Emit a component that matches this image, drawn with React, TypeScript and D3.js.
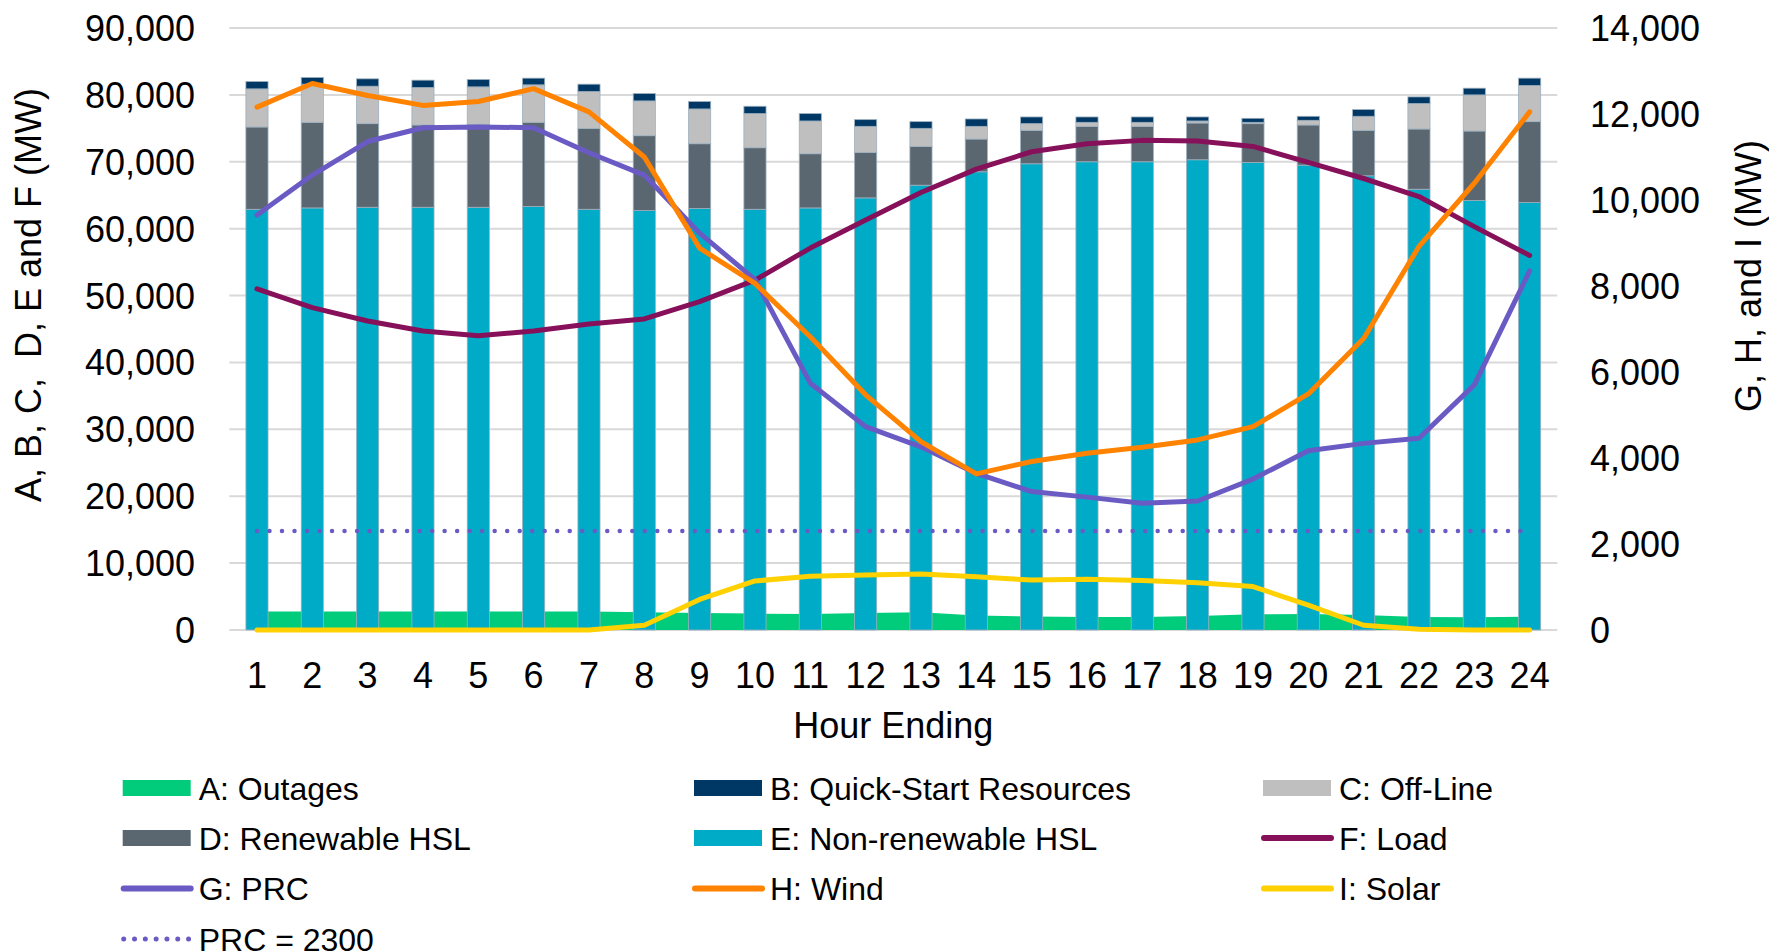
import React from "react";
import * as d3 from "d3";

const hours = [1,2,3,4,5,6,7,8,9,10,11,12,13,14,15,16,17,18,19,20,21,22,23,24];
// stacked tops, converted to segment values below
const eTop = [62900,63100,63200,63200,63200,63300,62900,62700,63000,62900,63100,64600,66500,68500,69700,70000,70000,70300,69900,69500,67900,65900,64200,63900];
const dTop = [75200,75900,75700,75500,75600,75900,75000,73900,72700,72100,71200,71400,72300,73400,74700,75300,75300,75800,75700,75500,74700,74900,74600,76000];
const cTop = [80900,81600,81300,81100,81200,81500,80500,79100,77900,77200,76100,75300,75000,75300,75700,75900,75900,76100,75900,76200,76800,78700,80000,81400];
const bTop = [82000,82600,82400,82200,82300,82500,81600,80200,79000,78300,77200,76300,76000,76400,76700,76700,76700,76700,76500,76800,77800,79700,81000,82500];

const nonRenewableHSL = eTop;
const renewableHSL = dTop.map((v, i) => v - eTop[i]);
const offLine = cTop.map((v, i) => v - dTop[i]);
const quickStart = bTop.map((v, i) => v - cTop[i]);
const outages = [2750,2750,2750,2750,2750,2750,2750,2650,2550,2450,2400,2550,2650,2150,2000,1950,1950,2100,2350,2400,2250,1950,1900,2000];
const load = [51000,48200,46200,44700,44000,44700,45750,46500,49100,52300,57100,61300,65400,68900,71500,72700,73200,73100,72300,69900,67500,64800,60300,56000];
const prc = [9650,10580,11360,11680,11700,11680,11100,10580,9230,8150,5740,4730,4260,3640,3220,3090,2950,3000,3510,4170,4340,4460,5700,8350];
const wind = [12160,12710,12430,12200,12290,12590,12050,11000,8880,8060,6820,5470,4380,3630,3920,4110,4250,4420,4730,5490,6780,8920,10390,12050];
const solar = [0,0,0,0,0,0,0,110,710,1140,1250,1280,1300,1240,1160,1180,1150,1100,1010,580,110,15,0,0];
const prcThreshold = 2300;

const leftTicks = [0,10000,20000,30000,40000,50000,60000,70000,80000,90000];
const rightTicks = [0,2000,4000,6000,8000,10000,12000,14000];

const COL = {
  A: "#00CC7C",
  B: "#003865",
  C: "#BFBFBF",
  D: "#5B6770",
  E: "#00ABC8",
  F: "#86105A",
  G: "#6A5BC4",
  H: "#FF8200",
  I: "#FFD100",
};

const FONT = "'Liberation Sans', Arial, sans-serif";

export default function App() {
  const W = 1769, H = 952;
  const left = 229.3, right = 1557.3, top = 28, bottom = 630;

  const x = d3.scaleBand<number>().domain(hours).range([left, right]).paddingInner(0.6).paddingOuter(0.3);
  const yL = d3.scaleLinear().domain([0, 90000]).range([bottom, top]);
  const yR = d3.scaleLinear().domain([0, 14000]).range([bottom, top]);
  const cx = (h: number) => (x(h) as number) + x.bandwidth() / 2;
  const fmt = d3.format(",");

  const segs = [
    { key: "E", vals: nonRenewableHSL, color: COL.E },
    { key: "D", vals: renewableHSL, color: COL.D },
    { key: "C", vals: offLine, color: COL.C },
    { key: "B", vals: quickStart, color: COL.B },
  ];
  const table = hours.map((h, i) => ({ h, E: nonRenewableHSL[i], D: renewableHSL[i], C: offLine[i], B: quickStart[i] }));
  const stacked = d3.stack<any>().keys(["E", "D", "C", "B"])(table);

  const area = d3.area<number>().x((_, i) => cx(hours[i])).y0(yL(0)).y1((d) => yL(d));
  const lineL = d3.line<number>().x((_, i) => cx(hours[i])).y((d) => yL(d));
  const lineR = d3.line<number>().x((_, i) => cx(hours[i])).y((d) => yR(d));

  const legend = [
    { label: "A: Outages", type: "rect", color: COL.A, col: 0, row: 0 },
    { label: "B: Quick-Start Resources", type: "rect", color: COL.B, col: 1, row: 0 },
    { label: "C: Off-Line", type: "rect", color: COL.C, col: 2, row: 0 },
    { label: "D: Renewable HSL", type: "rect", color: COL.D, col: 0, row: 1 },
    { label: "E: Non-renewable HSL", type: "rect", color: COL.E, col: 1, row: 1 },
    { label: "F: Load", type: "line", color: COL.F, col: 2, row: 1 },
    { label: "G: PRC", type: "line", color: COL.G, col: 0, row: 2 },
    { label: "H: Wind", type: "line", color: COL.H, col: 1, row: 2 },
    { label: "I: Solar", type: "line", color: COL.I, col: 2, row: 2 },
    { label: "PRC = 2300", type: "dot", color: COL.G, col: 0, row: 3 },
  ];
  const colX = [122.7, 694, 1263];
  const rowY = [788, 838, 888.5, 939];

  return (
    <svg width={W} height={H} style={{ position: "absolute", left: 0, top: 0, background: "#fff" }} fontFamily={FONT}>
      {/* gridlines */}
      {leftTicks.map((t) => (
        <line key={t} x1={left} x2={right} y1={yL(t)} y2={yL(t)} stroke="#D9D9D9" strokeWidth={2} />
      ))}
      {/* outages area */}
      <path d={area(outages) || ""} fill={COL.A} />
      {/* bars */}
      {stacked.map((layer, li) => (
        <g key={layer.key} fill={segs[li].color}>
          {layer.map((d, i) => (
            <rect
              key={i}
              x={x(hours[i])}
              width={x.bandwidth()}
              y={yL(d[1])}
              height={yL(d[0]) - yL(d[1])}
              stroke="#9DB0BF"
              strokeWidth={0.8}
            />
          ))}
        </g>
      ))}
      {/* lines */}
      <path d={lineL(load) || ""} fill="none" stroke={COL.F} strokeWidth={5} strokeLinejoin="round" strokeLinecap="round" />
      <path d={lineR(prc) || ""} fill="none" stroke={COL.G} strokeWidth={5} strokeLinejoin="round" strokeLinecap="round" />
      <path d={lineR(wind) || ""} fill="none" stroke={COL.H} strokeWidth={5} strokeLinejoin="round" strokeLinecap="round" />
      <path d={lineR(solar) || ""} fill="none" stroke={COL.I} strokeWidth={5} strokeLinejoin="round" strokeLinecap="round" />
      <line
        x1={cx(hours[0])}
        x2={cx(hours[hours.length - 1])}
        y1={yR(prcThreshold)}
        y2={yR(prcThreshold)}
        stroke={COL.G}
        strokeWidth={4.5}
        strokeLinecap="round"
        strokeDasharray="0.01 12.5"
      />
      {/* left axis ticks */}
      {leftTicks.map((t) => (
        <text key={t} x={195} y={yL(t)} dy="0.36em" textAnchor="end" fontSize={36} fill="#000">
          {fmt(t)}
        </text>
      ))}
      {/* right axis ticks */}
      {rightTicks.map((t) => (
        <text key={t} x={1590} y={yR(t)} dy="0.36em" textAnchor="start" fontSize={36} fill="#000">
          {fmt(t)}
        </text>
      ))}
      {/* x ticks */}
      {hours.map((h) => (
        <text key={h} x={cx(h)} y={688} textAnchor="middle" fontSize={36} fill="#000">
          {h}
        </text>
      ))}
      <text x={(left + right) / 2} y={738} textAnchor="middle" fontSize={36} fill="#000">
        Hour Ending
      </text>
      <text transform="translate(28,295) rotate(-90)" textAnchor="middle" dominantBaseline="central" fontSize={36} fill="#000" style={{ whiteSpace: "pre" }}>
        {"A, B, C,  D, E and F (MW)"}
      </text>
      <text transform="translate(1748,276) rotate(-90)" textAnchor="middle" dominantBaseline="central" fontSize={36} fill="#000">
        G, H, and I (MW)
      </text>
      {/* legend */}
      {legend.map((l) => {
        const lx = colX[l.col];
        const ly = rowY[l.row];
        return (
          <g key={l.label}>
            {l.type === "rect" && <rect x={lx} y={ly - 8} width={68} height={16} fill={l.color} />}
            {l.type === "line" && (
              <line x1={lx + 1} x2={lx + 68} y1={ly} y2={ly} stroke={l.color} strokeWidth={6} strokeLinecap="round" />
            )}
            {l.type === "dot" && (
              <line x1={lx + 1} x2={lx + 66} y1={ly} y2={ly} stroke={l.color} strokeWidth={5} strokeLinecap="round" strokeDasharray="0.01 10.8" />
            )}
            <text x={lx + 76} y={ly} dy="0.36em" fontSize={32} fill="#000">
              {l.label}
            </text>
          </g>
        );
      })}
    </svg>
  );
}
